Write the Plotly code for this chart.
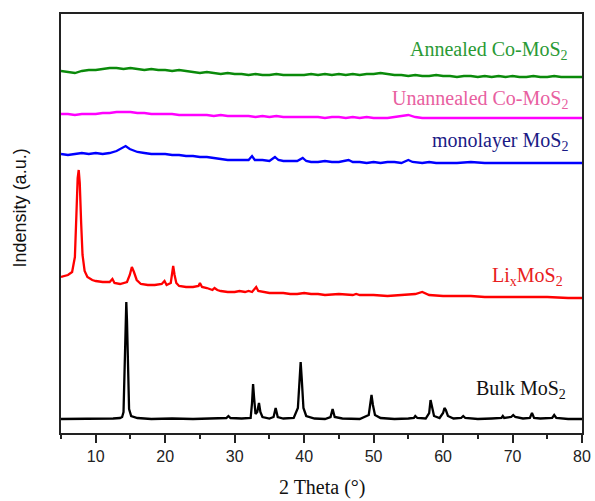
import plotly.graph_objects as go

# ---------------- data (2θ in degrees, intensity in arbitrary offset units) -------------
bulk_x = [5, 7, 9, 11, 12.5, 13.5, 13.8, 14.0, 14.15, 14.3, 14.4, 14.5, 14.65, 14.8, 15.1, 16, 18, 21, 24, 27,
          28.8, 29.1, 29.4, 31, 32.3, 32.5, 32.65, 32.8, 33.0, 33.25, 33.5, 33.7, 34.0, 35, 35.6, 35.9, 36.2,
          37, 38.5, 39.1, 39.35, 39.5, 39.65, 39.9, 40.3, 41.5, 43, 43.8, 44.1, 44.4, 45.5, 48, 49.3, 49.55,
          49.7, 49.9, 50.2, 51, 53, 55, 55.8, 56.0, 56.3, 57.5, 58.0, 58.2, 58.4, 58.7, 59.5, 60.0, 60.2, 60.4,
          60.7, 61.5, 62.6, 62.9, 63.2, 65, 67, 68.4, 68.6, 68.8, 69.8, 70.1, 70.4, 71.5, 72.5, 72.8, 73.1,
          74, 75.7, 76.0, 76.3, 78, 80]
bulk_y = [14, 14, 14.5, 14, 14.5, 15, 16, 21, 60, 120, 131, 112, 55, 24, 17, 15, 14, 14.5, 14, 14.5,
          15, 17, 15, 14.5, 15, 30, 49, 35, 19, 21, 30, 21, 16, 14.5, 16, 25, 16,
          14.5, 15, 25, 60, 71, 55, 25, 17, 14.5, 14, 16, 24, 16, 14.5, 14, 18, 32,
          38, 28, 18, 15, 14, 14.5, 15, 17, 15, 14.5, 20, 33, 27, 17, 15, 20, 25, 23,
          17, 14.5, 15, 17, 15, 14, 14.5, 15, 17, 15, 16, 18, 16, 14.5, 15, 20, 15,
          14.5, 15, 18, 15, 14, 14]

lix_x = [5, 5.5, 6, 6.6, 7.0, 7.2, 7.4, 7.55, 7.7, 7.9, 8.1, 8.4, 8.8, 9.5, 10, 11, 12, 12.4, 12.7, 13.5, 14.5,
         14.9, 15.2, 15.5, 15.9, 16.5, 17.5, 18.5, 19.5, 19.9, 20.2, 20.8, 21.0, 21.15, 21.35, 21.6, 22, 23,
         24, 24.8, 25.0, 25.3, 26, 26.8, 27.1, 27.5, 28, 29, 30, 30.7, 31.5, 32, 32.5, 33.1, 33.4, 34, 35, 36,
         37, 38, 39, 40, 41, 42, 43, 45, 47, 47.5, 48, 50, 52, 54, 56, 57, 58, 60, 62, 64, 66, 68, 70, 72, 75,
         78, 80]
lix_y = [156, 157, 158, 161, 176, 215, 255, 263, 250, 210, 178, 162, 156, 153, 152, 151, 151, 154, 150, 149, 151,
         158, 166, 161, 153, 149, 148, 148, 149, 152, 148, 150, 162, 167, 158, 150, 147, 146,
         146, 147, 150, 146, 145, 143, 145, 143, 142, 141, 141, 142, 141, 142, 141, 146, 142, 141, 140, 140,
         140, 139, 139, 140, 139, 139, 138, 139, 138, 139, 138, 138, 137, 138, 139, 141, 138, 137, 137, 137, 136,
         136, 136, 136, 136, 135, 135]

mono_x = [5, 6, 7, 8, 9, 10, 11, 12, 13, 13.7, 14.3, 14.9, 15.5, 16, 17, 18, 19, 20, 21, 22, 23, 24, 25, 26, 27,
          28, 29, 30, 31, 32, 32.5, 32.9, 34, 35, 35.8, 36.3, 37, 38, 39, 39.8, 40.3, 41, 42, 43, 44, 45, 46,
          46.4, 47, 48, 49, 50, 51, 52, 53, 54, 55, 55.6, 57, 58, 59, 60, 62, 64, 66, 68, 70, 72, 74, 76, 78, 80]
mono_y = [279, 278, 279, 280, 279, 280, 279, 280, 282, 285, 287, 284, 282, 281, 280, 279, 279, 279, 278, 278,
          277, 277, 276, 276, 275, 274, 273, 273, 273, 273, 277, 273, 273, 272, 276, 273, 272, 272, 272, 275,
          272, 271, 271, 272, 271, 271, 272, 273, 271, 271, 270, 271, 270, 271, 271, 270, 273, 271, 270, 271,
          270, 270, 270, 271, 270, 270, 270, 270, 270, 270, 270, 270]

unann_x = [5, 6, 7, 8, 9, 10, 11, 12, 13, 14, 15, 16, 17, 18, 19, 20, 21, 22, 23, 24, 25, 26, 27, 28, 29, 30,
           31, 32, 33, 34, 35, 36, 37, 38, 39, 40, 41, 42, 43, 44, 45, 46, 47, 48, 49, 50, 51, 52, 53, 54, 55,
           56, 57, 58, 59, 60, 62, 64, 66, 68, 70, 72, 74, 76, 78, 80]
unann_y = [319, 319, 318, 319, 319, 319, 320, 320, 321, 321, 321, 320, 320, 319, 319, 319, 319, 318, 318, 318,
           318, 318, 317, 318, 317, 317, 317, 317, 316, 317, 316, 317, 316, 316, 316, 316, 316, 316, 315, 316,
           316, 315, 316, 315, 316, 315, 315, 315, 316, 317, 318, 316, 315, 315, 315, 315, 315, 315, 315, 315,
           315, 315, 315, 315, 315, 315]

ann_x = [5, 6, 7, 8, 9, 10, 11, 12, 13, 14, 15, 16, 17, 18, 19, 20, 21, 22, 23, 24, 25, 26, 27, 28, 29, 30,
         31, 32, 33, 34, 35, 36, 37, 38, 39, 40, 41, 42, 43, 44, 45, 46, 47, 48, 49, 50, 51, 52, 53, 54, 55,
         56, 57, 58, 59, 60, 61, 62, 63, 64, 65, 66, 67, 68, 69, 70, 71, 72, 73, 74, 75, 76, 77, 78, 79, 80]
ann_y = [362, 361, 360, 362, 363, 363, 364, 365, 365, 364, 365, 364, 363, 364, 363, 363, 362, 363, 362, 361,
         360, 361, 360, 359, 360, 359, 359, 358, 359, 358, 358, 359, 358, 358, 358, 358, 359, 358, 359, 358,
         359, 358, 359, 358, 359, 359, 360, 359, 358, 358, 357, 358, 357, 357, 358, 357, 357, 356, 357, 357,
         356, 357, 356, 357, 356, 357, 356, 356, 357, 356, 356, 357, 356, 356, 356, 356]

series_names = ["Bulk MoS2", "LixMoS2", "monolayer MoS2", "Unannealed Co-MoS2", "Annealed Co-MoS2"]
line_colors = ["#000000", "#ff0000", "#0000ff", "#ff00ff", "#0a8a0a"]

label_texts = ["Bulk MoS<sub>2</sub>", "Li<sub>x</sub>MoS<sub>2</sub>", "monolayer MoS<sub>2</sub>",
               "Unannealed Co-MoS<sub>2</sub>", "Annealed Co-MoS<sub>2</sub>"]
label_colors = ["#111111", "#e82020", "#1a1a85", "#e8609f", "#2a9a35"]
label_x = [78.0, 77.6, 78.2, 78.3, 78.3]
label_y = [44, 157, 292, 334, 383]

xs = [bulk_x, lix_x, mono_x, unann_x, ann_x]
ys = [bulk_y, lix_y, mono_y, unann_y, ann_y]

fig = go.Figure()
for name, x, y, c in zip(series_names, xs, ys, line_colors):
    fig.add_trace(go.Scatter(x=x, y=y, mode="lines", name=name,
                             line=dict(color=c, width=2.3), showlegend=False))

serif = "Liberation Serif, Times New Roman, serif"
for t, c, lx, ly in zip(label_texts, label_colors, label_x, label_y):
    fig.add_annotation(x=lx, y=ly, xref="x", yref="y", text=t, showarrow=False,
                       xanchor="right", yanchor="middle",
                       font=dict(family=serif, size=20, color=c))

fig.add_annotation(x=0.5, y=-0.129, xref="paper", yref="paper", text="2 Theta (°)",
                   showarrow=False, xanchor="center", yanchor="middle",
                   font=dict(family=serif, size=20, color="#111111"))
fig.add_annotation(x=-0.079, y=0.538, xref="paper", yref="paper", text="Indensity (a.u.)",
                   showarrow=False, xanchor="center", yanchor="middle", textangle=-90,
                   font=dict(family="Liberation Sans, Arial, sans-serif", size=18, color="#111111"))

fig.update_layout(
    width=595, height=501,
    margin=dict(l=61, r=13, t=14, b=68, autoexpand=False),
    plot_bgcolor="white", paper_bgcolor="white",
    xaxis=dict(range=[5, 80], tick0=0, dtick=10, ticks="outside", ticklen=8, tickwidth=1.5,
               tickcolor="#222", showline=True, linecolor="#222", linewidth=2, mirror=True,
               showgrid=False, zeroline=False, automargin=False,
               minor=dict(tick0=5, dtick=5, ticks="outside", ticklen=4, tickwidth=1.5, tickcolor="#222"),
               tickfont=dict(family="Liberation Sans, Arial, sans-serif", size=16, color="#222")),
    yaxis=dict(range=[0, 419], showticklabels=False, ticks="", showline=True, linecolor="#222",
               linewidth=2, mirror=True, showgrid=False, zeroline=False, automargin=False),
)

fig.write_html("out.html", config={"displayModeBar": False},
               post_script="document.body.style.margin='0';document.body.style.overflow='hidden';")
